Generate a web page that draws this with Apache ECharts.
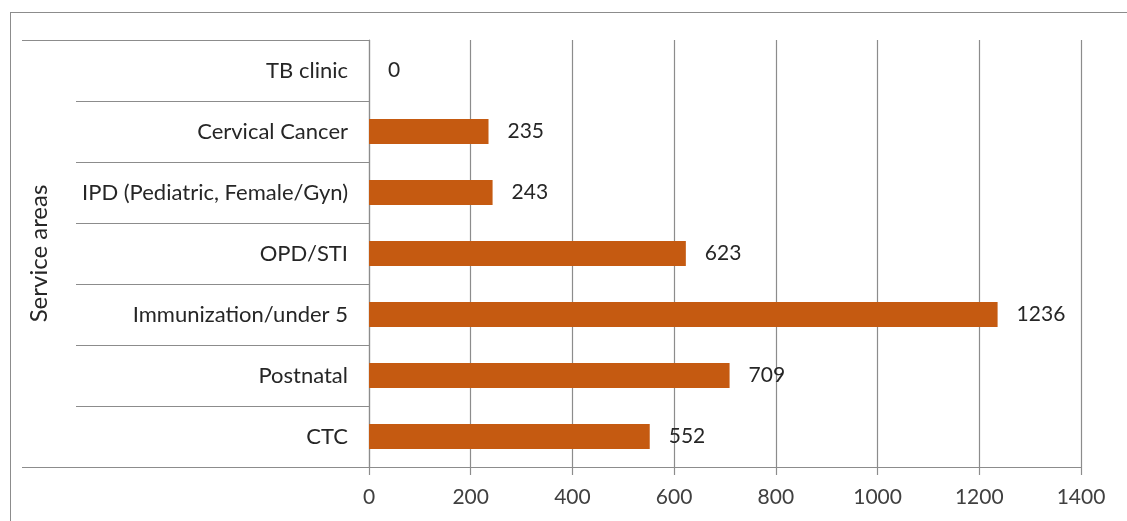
<!DOCTYPE html>
<html>
<head>
<meta charset="utf-8">
<script src="https://cdn.jsdelivr.net/npm/echarts@6/dist/echarts.min.js"></script>
<style>
  html, body { margin: 0; padding: 0; background: #fff; overflow: hidden; }
  #frame { position: absolute; left: 10px; top: 12px; width: 1200px; height: 600px;
           border-left: 1.5px solid #8c8c8c; border-top: 1.5px solid #8c8c8c; }
  #chart { position: absolute; left: 0; top: 0; width: 1127px; height: 521px; }
</style>
</head>
<body>
<div id="frame"></div>
<div id="chart"></div>
<script>
// Service areas, listed bottom to top
const categories = ['CTC', 'Postnatal', 'Immunization/under 5', 'OPD/STI',
  'IPD (Pediatric, Female/Gyn)', 'Cervical Cancer', 'TB clinic'];
const clients = [552, 709, 1236, 623, 243, 235, 0];
const xTicks = [0, 200, 400, 600, 800, 1000, 1200, 1400];

const FONT = 'Lato, "Open Sans", sans-serif';
const GRID = '#8c8c8c';

const chart = echarts.init(document.getElementById('chart'));
chart.setOption({
  animation: false,
  grid: { left: 369, right: 46, top: 40, bottom: 54, containLabel: false },
  xAxis: {
    type: 'value',
    min: xTicks[0], max: xTicks[xTicks.length - 1], interval: 200,
    axisLine: { show: true, lineStyle: { color: GRID, width: 1.2 } },
    axisTick: { show: true, length: 8, lineStyle: { color: GRID, width: 1.2 } },
    splitLine: { show: true, lineStyle: { color: GRID, width: 1.2 } },
    axisLabel: {
      color: '#404040', fontSize: 21, fontFamily: FONT, margin: 20,
      formatter: v => String(v)
    }
  },
  yAxis: [
    {
      type: 'category',
      data: categories,
      name: 'Service areas',
      nameLocation: 'middle',
      nameGap: 318,
      nameTextStyle: { color: '#262626', fontSize: 24, fontFamily: FONT },
      axisLine: { show: true, lineStyle: { color: GRID, width: 1.2 } },
      axisTick: { show: true, length: 293, lineStyle: { color: GRID, width: 1.2 } },
      axisLabel: { color: '#262626', fontSize: 22, fontFamily: FONT, margin: 21 }
    },
    {
      // outer frame lines of the category column (top and bottom)
      type: 'category',
      data: [''],
      position: 'left',
      axisLine: { show: false },
      axisTick: { show: true, length: 347, lineStyle: { color: GRID, width: 1.2 } },
      axisLabel: { show: false },
      splitLine: { show: false }
    }
  ],
  series: [{
    type: 'bar',
    yAxisIndex: 0,
    data: clients,
    barWidth: 25,
    itemStyle: { color: '#C55A11' },
    label: {
      show: true, position: 'right', distance: 19,
      color: '#262626', fontSize: 21, fontFamily: FONT
    }
  }]
});
</script>
</body>
</html>
